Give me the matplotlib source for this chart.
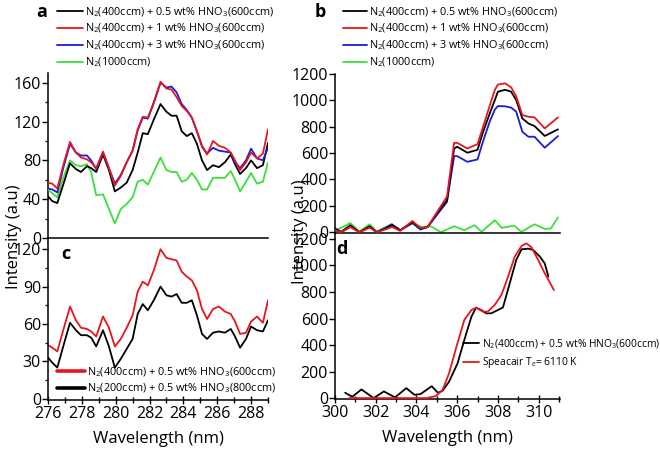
import matplotlib
matplotlib.use("Agg")
import matplotlib.pyplot as plt
from matplotlib.ticker import MultipleLocator

plt.rcParams['font.family'] = ['Open Sans', 'DejaVu Sans']
plt.rcParams['mathtext.fontset'] = 'custom'
plt.rcParams['mathtext.rm'] = 'Open Sans'
plt.rcParams['mathtext.it'] = 'Open Sans:italic'
plt.rcParams['mathtext.bf'] = 'Open Sans:bold'

# ---------------- data ----------------
# panels a & c : wavelength grid (nm)
wl_ac = [276.0, 276.25, 276.55, 276.9, 277.3, 277.65, 277.95, 278.3, 278.55, 278.85,
         279.25, 279.6, 279.95, 280.3, 280.65, 281.0, 281.3, 281.6, 281.9, 282.25,
         282.65, 283.0, 283.3, 283.6, 283.9, 284.2, 284.5, 284.8, 285.1, 285.4,
         285.75, 286.1, 286.45, 286.8, 287.05, 287.35, 287.7, 288.0, 288.35, 288.7, 289.0]

a_black = [43, 38, 36, 55, 77, 71, 68, 74, 72, 68,
           86, 70, 48, 52, 57, 70, 88, 108, 107, 122,
           138, 130, 126, 126, 110, 105, 108, 97, 80, 70,
           75, 73, 78, 86, 76, 66, 72, 80, 72, 75, 98]
a_red = [57, 56, 51, 75, 99, 88, 83, 81, 78, 72,
         89, 72, 54, 64, 78, 90, 112, 125, 124, 140,
         161, 154, 153, 145, 136, 131, 124, 110, 95, 86,
         100, 95, 93, 88, 80, 70, 78, 88, 82, 87, 112]
a_blue = [51, 50, 47, 72, 97, 88, 85, 85, 80, 71,
          88, 72, 56, 65, 78, 90, 111, 124, 123, 139,
          160, 155, 156, 150, 138, 132, 124, 110, 94, 87,
          93, 90, 89, 88, 78, 72, 80, 92, 82, 80, 93]
a_green = [50, 46, 42, 62, 80, 75, 74, 76, 68, 44,
           45, 30, 15, 30, 35, 42, 58, 60, 55, 68,
           83, 70, 68, 68, 58, 60, 67, 60, 50, 50,
           62, 62, 62, 69, 60, 48, 58, 67, 56, 58, 78]

c_red = [43, 41, 38, 55, 74, 63, 57, 56, 54, 50,
         66, 57, 42, 48, 57, 67, 86, 94, 91, 103,
         120, 113, 112, 111, 102, 98, 95, 87, 72, 64,
         72, 74, 70, 68, 62, 52, 53, 62, 66, 61, 79]
c_black = [33, 29, 25, 42, 61, 55, 51, 51, 49, 42,
           55, 42, 25, 32, 40, 48, 68, 76, 71, 79,
           90, 83, 82, 84, 77, 77, 79, 67, 52, 48,
           53, 54, 53, 56, 50, 41, 48, 58, 55, 54, 63]

# panel b
wl_b = [300.0, 300.3, 300.75, 301.2, 301.7, 302.05, 302.45, 302.8, 303.2, 303.8,
        304.2, 304.55, 305.0, 305.5, 305.85, 306.0, 306.5, 307.0, 307.25, 307.6,
        307.85, 308.0, 308.35, 308.65, 308.9, 309.2, 309.5, 309.8, 310.3, 310.95]
b_black = [28, 3, 53, 0, 45, 0, 25, 53, 15, 78,
           28, 40, 142, 243, 635, 648, 603, 625, 750, 901,
           1002, 1066, 1080, 1066, 1002, 863, 825, 805, 730, 780]
b_red = [15, 0, 40, 0, 35, 0, 20, 40, 10, 85,
         30, 40, 150, 270, 678, 678, 635, 668, 790, 960,
         1080, 1120, 1129, 1099, 1030, 889, 876, 871, 787, 871]
b_blue = [15, 0, 40, 0, 40, 0, 30, 60, 15, 70,
          20, 40, 130, 230, 577, 577, 534, 552, 680, 840,
          930, 957, 955, 945, 914, 762, 724, 724, 641, 729]
wl_bg = [300.0, 300.4, 300.75, 301.2, 301.7, 302.05, 302.75, 303.2, 303.8, 304.3,
         304.7, 305.2, 305.85, 306.35, 306.85, 307.2, 307.85, 308.2, 308.8, 309.15,
         309.8, 310.3, 310.6, 310.95]
b_green = [15, 40, 70, 5, 60, 5, 60, 15, 65, 40,
           45, 0, 45, 15, 53, 3, 91, 33, 50, 3,
           60, 25, 28, 111]

# panel d
wl_d_exp = [300.5, 300.85, 301.3, 301.9, 302.4, 302.95, 303.5, 303.9, 304.2, 304.75,
            305.05, 305.28, 305.6, 306.02, 306.35, 306.7, 306.93, 307.18, 307.43, 307.67,
            308.0, 308.25, 308.58, 308.9, 309.16, 309.5, 309.73, 310.06, 310.3, 310.48]
d_exp = [40, 10, 65, 0, 50, 5, 75, 25, 30, 90,
         40, 55, 123, 262, 438, 614, 682, 664, 639, 639,
         664, 684, 865, 1041, 1122, 1127, 1117, 1067, 1016, 916]
wl_d_sim = [300.7, 301.5, 302.5, 303.5, 304.5, 304.95, 305.28, 305.6, 305.94, 306.35,
            306.7, 306.93, 307.26, 307.5, 307.84, 308.17, 308.5, 308.83, 309.16, 309.4,
            309.65, 309.98, 310.3, 310.75]
d_sim = [0, 0, 0, 0, 0, 15, 60, 186, 375, 589,
         664, 682, 652, 652, 702, 777, 916, 1067, 1147, 1167,
         1137, 1041, 941, 815]

lab_ab = [r'N$_2$(400ccm) + 0.5 wt% HNO$_3$(600ccm)',
          r'N$_2$(400ccm) + 1 wt% HNO$_3$(600ccm)',
          r'N$_2$(400ccm) + 3 wt% HNO$_3$(600ccm)',
          r'N$_2$(1000ccm)']
lab_c = [r'N$_2$(400ccm) + 0.5 wt% HNO$_3$(600ccm)',
         r'N$_2$(200ccm) + 0.5 wt% HNO$_3$(800ccm)']
lab_d = [r'N$_2$(400ccm) + 0.5 wt% HNO$_3$(600ccm)',
         r'Speacair T$_e$= 6110 K']

# ---------------- style ----------------
BLACK = '#000000'
RED = '#e8151d'
BLUE = '#1c1cd8'
GREEN = '#3ddf3a'
TICKFS = 11.5
LABFS = 12
LEGFS = 7.6
LW = 1.3

W, H = 660, 449
fig = plt.figure(figsize=(W / 100, H / 100), dpi=100)


def rect(x0, y0, x1, y1):
    return [x0 / W, 1 - y1 / H, (x1 - x0) / W, (y1 - y0) / H]


ax_a = fig.add_axes(rect(48, 73, 268, 238))
ax_c = fig.add_axes(rect(48, 238, 268, 400))
ax_b = fig.add_axes(rect(335, 74, 560, 233))
ax_d = fig.add_axes(rect(335, 233, 560, 399))

for ax in (ax_a, ax_b, ax_c, ax_d):
    ax.spines['top'].set_visible(False)
    ax.spines['right'].set_visible(False)
    for s in ('left', 'bottom'):
        ax.spines[s].set_linewidth(1.1)
    ax.tick_params(axis='y', which='major', direction='out', length=4, width=1,
                   labelsize=TICKFS, pad=1)
    ax.tick_params(axis='y', which='minor', direction='out', length=2.5, width=0.9)
    ax.patch.set_alpha(0)

for ax in (ax_a, ax_c):
    ax.set_xlim(276, 289)
for ax in (ax_b, ax_d):
    ax.set_xlim(300, 311.05)

for ax in (ax_a, ax_b):
    ax.tick_params(axis='x', bottom=False, labelbottom=False, which='both')
for ax in (ax_c, ax_d):
    ax.xaxis.set_major_locator(MultipleLocator(2))
    ax.xaxis.set_minor_locator(MultipleLocator(1))
    ax.tick_params(axis='x', which='major', direction='inout', length=6, width=1,
                   labelsize=TICKFS, pad=1)
    ax.tick_params(axis='x', which='minor', direction='inout', length=4, width=1)
    ax.set_xlabel('Wavelength (nm)', fontsize=LABFS, labelpad=7)

kw = dict(lw=LW, solid_joinstyle='round', solid_capstyle='round')

# panel a
ax_a.plot(wl_ac, a_black, color=BLACK, label=lab_ab[0], zorder=4, **kw)
ax_a.plot(wl_ac, a_red, color=RED, label=lab_ab[1], zorder=5, **kw)
ax_a.plot(wl_ac, a_blue, color=BLUE, label=lab_ab[2], zorder=4, **kw)
ax_a.plot(wl_ac, a_green, color=GREEN, label=lab_ab[3], zorder=3, **kw)
ax_a.set_ylim(0, 170)
ax_a.set_yticks([0, 40, 80, 120, 160])
ax_a.yaxis.set_minor_locator(MultipleLocator(20))

# panel c
ax_c.plot(wl_ac, c_red, color=RED, label=lab_c[0], **kw)
ax_c.plot(wl_ac, c_black, color=BLACK, label=lab_c[1], **kw)
ax_c.set_ylim(-1, 129)
ax_c.set_yticks([0, 30, 60, 90, 120])
ax_c.yaxis.set_minor_locator(MultipleLocator(15))

# panel b
ax_b.plot(wl_b, b_black, color=BLACK, label=lab_ab[0], zorder=4, **kw)
ax_b.plot(wl_b, b_red, color=RED, label=lab_ab[1], zorder=5, **kw)
ax_b.plot(wl_b, b_blue, color=BLUE, label=lab_ab[2], zorder=3, **kw)
ax_b.plot(wl_bg, b_green, color=GREEN, label=lab_ab[3], zorder=2, **kw)
ax_b.set_ylim(-6, 1200)
ax_b.set_yticks([0, 200, 400, 600, 800, 1000, 1200])

# panel d
ax_d.plot(wl_d_exp, d_exp, color=BLACK, label=lab_d[0], zorder=3, **kw)
ax_d.plot(wl_d_sim, d_sim, color=RED, label=lab_d[1], zorder=4, **kw)
ax_d.set_ylim(-7, 1245)
ax_d.set_yticks([0, 200, 400, 600, 800, 1000, 1200])

# legends
common = dict(frameon=False, borderpad=0, borderaxespad=0,
              handletextpad=0.2, bbox_transform=fig.transFigure)
ax_a.legend(loc='upper left', bbox_to_anchor=(57 / W, 1 - 5 / H), fontsize=7.8,
            handlelength=2.4, labelspacing=0.3, **common)
ax_b.legend(loc='upper left', bbox_to_anchor=(343 / W, 1 - 5 / H), fontsize=7.8,
            handlelength=2.2, labelspacing=0.3, **common)
leg_c = ax_c.legend(loc='upper left', bbox_to_anchor=(57 / W, 1 - 365 / H), fontsize=7.8,
                    handlelength=2.6, labelspacing=0.3, **common)
for h in leg_c.get_lines():
    h.set_linewidth(2.6)
ax_d.legend(loc='upper left', bbox_to_anchor=(463 / W, 1 - 337 / H), fontsize=7.4,
            handlelength=1.6, labelspacing=0.45, **common)

# panel letters
fig.text(42 / W, 1 - 12 / H, 'a', fontsize=13, fontweight='bold', ha='center', va='center')
fig.text(320 / W, 1 - 12 / H, 'b', fontsize=13, fontweight='bold', ha='center', va='center')
fig.text(66 / W, 1 - 254 / H, 'c', fontsize=13, fontweight='bold', ha='center', va='center')
fig.text(342 / W, 1 - 249 / H, 'd', fontsize=13, fontweight='bold', ha='center', va='center')

# y labels
fig.text(14 / W, 1 - 237 / H, 'Intensity (a.u)', fontsize=LABFS, rotation=90,
         ha='center', va='center')
fig.text(300 / W, 1 - 232 / H, 'Intensity (a.u)', fontsize=LABFS, rotation=90,
         ha='center', va='center', zorder=0)

fig.savefig('out.png', dpi=100)
